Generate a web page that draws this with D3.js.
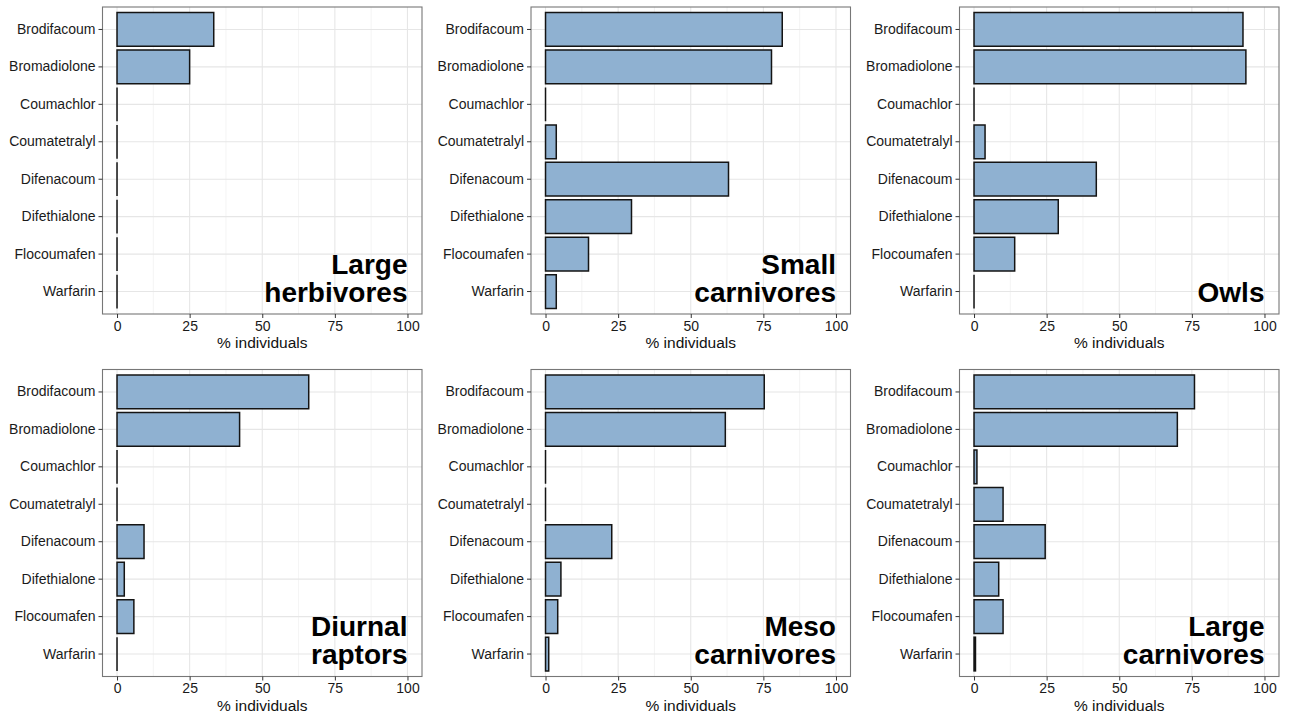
<!DOCTYPE html>
<html>
<head>
<meta charset="utf-8">
<script src="https://cdn.jsdelivr.net/npm/d3@7"></script>
<style>
  html, body { margin: 0; padding: 0; background: #fff; }
  svg { display: block; font-family: "Liberation Sans", Arial, sans-serif; }
</style>
</head>
<body>
<svg id="chart" width="1290" height="720"></svg>
<script>
// Anticoagulant rodenticides (y axis, top to bottom)
const compounds = ["Brodifacoum", "Bromadiolone", "Coumachlor", "Coumatetralyl",
                   "Difenacoum", "Difethialone", "Flocoumafen", "Warfarin"];

// Percentage of individuals with residues, per group (same order as compounds)
const largeHerbivores = [33.3, 25, 0, 0, 0, 0, 0, 0];
const smallCarnivores = [81.5, 77.8, 0, 3.7, 63.0, 29.6, 14.8, 3.7];
const owls            = [92.6, 93.6, 0, 3.8, 42.1, 29.0, 14.0, 0];
const diurnalRaptors  = [66.0, 42.2, 0, 0, 9.3, 2.5, 5.8, 0];
const mesoCarnivores  = [75.3, 61.9, 0, 0, 22.8, 5.3, 4.2, 1.1];
const largeCarnivores = [75.9, 70.0, 1.0, 10.0, 24.5, 8.5, 10.0, 0.5];

const groupNames = [["Large", "herbivores"], ["Small", "carnivores"], ["Owls"],
                    ["Diurnal", "raptors"], ["Meso", "carnivores"], ["Large", "carnivores"]];
const groupValues = [largeHerbivores, smallCarnivores, owls,
                     diurnalRaptors, mesoCarnivores, largeCarnivores];

const xTicks = [0, 25, 50, 75, 100];
const xMinor = [12.5, 37.5, 62.5, 87.5];
const xTitle = "% individuals";

// Panel geometry
const colLeft = [102.5, 531, 959.5];
const rowTop = [7, 369.5];
const panelW = 319.5;
const panelH = 307;

const svg = d3.select("#chart");

groupValues.forEach((vals, i) => {
  const col = i % 3, row = Math.floor(i / 3);
  const left = colLeft[col], top = rowTop[row];

  const x = d3.scaleLinear().domain([-5, 105]).range([left, left + panelW]);
  const y = d3.scaleBand().domain(compounds).range([top, top + panelH])
    .paddingInner(0.1).paddingOuter(0.15);

  const g = svg.append("g");

  // grid
  g.selectAll("line.minor").data(xMinor).join("line")
    .attr("x1", d => x(d)).attr("x2", d => x(d))
    .attr("y1", top).attr("y2", top + panelH)
    .attr("stroke", "#ededed").attr("stroke-width", 0.6);
  g.selectAll("line.vmajor").data(xTicks).join("line")
    .attr("x1", d => x(d)).attr("x2", d => x(d))
    .attr("y1", top).attr("y2", top + panelH)
    .attr("stroke", "#e6e6e6").attr("stroke-width", 1.1);
  g.selectAll("line.hmajor").data(compounds).join("line")
    .attr("x1", left).attr("x2", left + panelW)
    .attr("y1", d => y(d) + y.bandwidth() / 2).attr("y2", d => y(d) + y.bandwidth() / 2)
    .attr("stroke", "#e6e6e6").attr("stroke-width", 1.1);

  // bars (paths so zero-length bars still show their outline)
  g.selectAll("path.bar").data(compounds.map((c, k) => ({ c, v: vals[k] }))).join("path")
    .attr("d", d => {
      const x0 = x(0), x1 = x(d.v), y0 = y(d.c), y1 = y0 + y.bandwidth();
      return `M${x0},${y0}H${x1}V${y1}H${x0}Z`;
    })
    .attr("fill", "#8fb1d1")
    .attr("stroke", "#141414")
    .attr("stroke-width", 1.5);

  // panel border
  g.append("rect")
    .attr("x", left).attr("y", top).attr("width", panelW).attr("height", panelH)
    .attr("fill", "none").attr("stroke", "#777").attr("stroke-width", 1.1);

  // y axis
  const yAxis = g.append("g").attr("transform", `translate(${left},0)`)
    .call(d3.axisLeft(y).tickSize(4).tickPadding(3));
  yAxis.select(".domain").remove();
  yAxis.selectAll(".tick line").attr("stroke", "#333");
  yAxis.selectAll(".tick text").attr("font-size", 14).attr("fill", "#1a1a1a")
    .attr("font-family", "Liberation Sans, Arial, sans-serif");

  // x axis
  const xAxis = g.append("g").attr("transform", `translate(0,${top + panelH})`)
    .call(d3.axisBottom(x).tickValues(xTicks).tickSize(4).tickPadding(3));
  xAxis.select(".domain").remove();
  xAxis.selectAll(".tick line").attr("stroke", "#333");
  xAxis.selectAll(".tick text").attr("font-size", 14).attr("fill", "#1a1a1a")
    .attr("font-family", "Liberation Sans, Arial, sans-serif");

  g.append("text")
    .attr("x", left + panelW / 2).attr("y", top + panelH + 34)
    .attr("text-anchor", "middle").attr("font-size", 15.5).attr("fill", "#111")
    .text(xTitle);

  // group label, bottom-right inside panel
  const lines = groupNames[i];
  const lab = g.append("text")
    .attr("text-anchor", "end").attr("font-size", 28).attr("font-weight", "bold")
    .attr("fill", "#000");
  lines.forEach((t, k) => {
    lab.append("tspan")
      .attr("x", x(100))
      .attr("y", top + panelH - 12.5 - (lines.length - 1 - k) * 28)
      .text(t);
  });
});
</script>
</body>
</html>
